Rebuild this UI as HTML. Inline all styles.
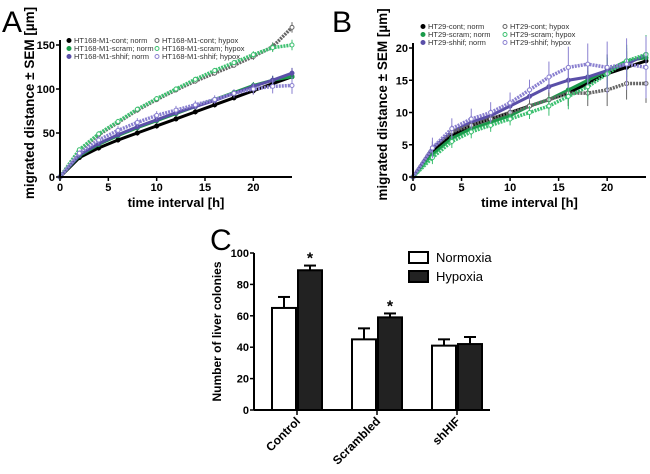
<!DOCTYPE html>
<html><head><meta charset="utf-8"><style>
body{margin:0;background:#fff;}
svg{display:block;font-family:"Liberation Sans",Arial,sans-serif;}
</style></head><body>
<svg id="fig" width="650" height="474" viewBox="0 0 650 474"></svg>
<script>
const hours=[0,2,4,6,8,10,12,14,16,18,20,22,24];
const aNames=["HT168-M1-cont; norm","HT168-M1-scram; norm","HT168-M1-shhif; norm","HT168-M1-cont; hypox","HT168-M1-scram; hypox","HT168-M1-shhif; hypox"];
const aContNorm=[0,22,33,42,50,58,66,74,82,90,98,106,114];
const aScramNorm=[0,24,37,47,56,64,72,80,88,96,104,110,114];
const aShhifNorm=[0,25,38,48,57,65,73,80,87,95,103,110,118];
const aContHyp=[0,30,48,62,76,88,99,109,118,127,137,148,170];
const aScramHyp=[0,31,49,63,77,89,100,111,121,130,139,147,150];
const aShhifHyp=[0,27,42,53,62,70,76,82,88,95,100,103,104];
const aErr=[0,2,3,3,3,3,3,3,3,3,4,5,6];
const bNames=["HT29-cont; norm","HT29-scram; norm","HT29-shhif; norm","HT29-cont; hypox","HT29-scram; hypox","HT29-shhif; hypox"];
const bContNorm=[0,4,6.5,8,9,10,11,12,13,14.5,16,17,18];
const bScramNorm=[0,3.5,6,7.5,8.5,9.5,11,12,13.5,15,16.5,18,18.5];
const bShhifNorm=[0,4.5,7,8.5,9.5,11,12.5,14,15,15.5,16.5,17.5,19];
const bContHyp=[0,4.5,7,8,9,10,11,12,13,13,13.5,14.5,14.5];
const bScramHyp=[0,3,5.5,7,8,9,10,11,12.5,14,16,18,19];
const bShhifHyp=[0,4.5,7.5,9,10,11.5,13.5,15.5,17,17.5,17,17.5,17];
const bErr=[0,1,1,1,1,1,1,1.5,2,2,2.5,2.5,3];
const cCats=["Control","Scrambled","shHIF"];
const cNorm=[65,45,41];
const cNormErr=[7,7,4];
const cHyp=[89,59,42];
const cHypErr=[3,2.5,4.5];
const cStar=[true,true,false];
const cTicks=[0,20,40,60,80,100];

const NS="http://www.w3.org/2000/svg";
const svg=document.getElementById('fig');
function el(t,a,p){const e=document.createElementNS(NS,t);for(const k in a)e.setAttribute(k,a[k]);(p||svg).appendChild(e);return e;}
function txt(s,a,p){const e=el('text',a,p);e.textContent=s;return e;}
const cols=["#000","#1a9a4a","#5a4fa8","#666","#3cc070","#8a80d0"];

function linePanel(letter,ox,x0,x1,xmax,y0,y1,ymax,yticks,series,errs,names,leg){
  const g=el('g',{});
  
  
  const X=v=>x0+(x1-x0)*v/xmax, Y=v=>y0-(y0-y1)*v/ymax;
  const L=txt(letter,{x:ox,y:32,'font-size':30},g);
  
  series.forEach((s,i)=>{
    const sg=el('g',{},g);
    
    
    const hyp=i>=3;
    hours.forEach((h,j)=>{const e=errs[j]*(hyp&&i==5?1.6:1);
      el('line',{x1:X(h),x2:X(h),y1:Y(s[j]+e),y2:Y(Math.max(0,s[j]-e)),stroke:cols[i],'stroke-width':1},sg);});
    el('polyline',{points:hours.map((h,j)=>X(h)+','+Y(s[j])).join(' '),fill:'none',stroke:cols[i],'stroke-width':hyp?3.5:3,'stroke-dasharray':hyp?'2 1':'none'},sg);
    hours.forEach((h,j)=>el('circle',{cx:X(h),cy:Y(s[j]),r:2,fill:hyp?'#fff':cols[i],stroke:cols[i],'stroke-width':1},sg));
  });
  el('line',{x1:x0,y1:y1-5,x2:x0,y2:y0,stroke:'#000','stroke-width':2},g);
  el('line',{x1:x0,y1:y0,x2:x1,y2:y0,stroke:'#000','stroke-width':2},g);
  [0,5,10,15,20].forEach(v=>{el('line',{x1:X(v),x2:X(v),y1:y0,y2:y0+4,stroke:'#000','stroke-width':1.5},g);
    txt(v,{x:X(v),y:y0+14,'font-size':11,'font-weight':'bold','text-anchor':'middle'},g);});
  yticks.forEach(v=>{el('line',{x1:x0-4,x2:x0,y1:Y(v),y2:Y(v),stroke:'#000','stroke-width':1.5},g);
    txt(v,{x:x0-5,y:Y(v)+4,'font-size':11,'font-weight':'bold','text-anchor':'end'},g);});
  const xl=txt('time interval [h]',{x:(x0+x1)/2,y:y0+30,'font-size':13,'font-weight':'bold','text-anchor':'middle'},g);
  
  const yl=txt('migrated distance ± SEM [µm]',{transform:`translate(${x0-26},${(y0+y1)/2-8}) rotate(-90)`,'font-size':13.5,'font-weight':'bold','text-anchor':'middle'},g);
  
  names.forEach((n,i)=>{const lx=leg[0]+(i>=3?leg[2]:0), ly=leg[1]+(i%3)*8;
    const lg=el('g',{},g);
    el('circle',{cx:lx,cy:ly-2.5,r:2,fill:i>=3?'#fff':cols[i],stroke:cols[i]},lg);
    txt(n,{x:lx+5,y:ly,'font-size':7.5,fill:'#333'},lg);});
}
linePanel('A',2,60,292,24,177,45,150,[0,50,100,150],[aContNorm,aScramNorm,aShhifNorm,aContHyp,aScramHyp,aShhifHyp],aErr,aNames,[69,43,88]);
linePanel('B',332,413,646,24,177,48,20,[0,5,10,15,20],[bContNorm,bScramNorm,bShhifNorm,bContHyp,bScramHyp,bShhifHyp],bErr,bNames,[423,29,82]);

// Panel C
(function(){
  const g=el('g',{});
  const x0=254,y0=410,y1=253,xr=490;
  const Y=v=>y0-(y0-y1)*v/100;
  const L=txt('C',{x:210,y:250,'font-size':30},g);
  
  const bw=24, centers=cCats.map((c,i)=>297+i*80);
  cCats.forEach((c,i)=>{
    const cx=centers[i];
    [[cNorm,cNormErr,'#fff',cx-bw-1],[cHyp,cHypErr,'#222',cx+1]].forEach(([v,e,f,bx],k)=>{
      const r=el('rect',{x:bx,y:Y(v[i]),width:bw,height:y0-Y(v[i]),fill:f,stroke:'#000','stroke-width':2},g);
      
      
      const mx=bx+bw/2;
      el('line',{x1:mx,x2:mx,y1:Y(v[i]),y2:Y(v[i]+e[i]),stroke:'#000','stroke-width':2},g);
      el('line',{x1:mx-6,x2:mx+6,y1:Y(v[i]+e[i]),y2:Y(v[i]+e[i]),stroke:'#000','stroke-width':2},g);
    });
    if(cStar[i])txt('*',{x:cx+1+bw/2,y:Y(cHyp[i]+cHypErr[i])-2,'font-size':16,'font-weight':'bold','text-anchor':'middle'},g);
    el('line',{x1:cx,x2:cx,y1:y0,y2:y0+5,stroke:'#000','stroke-width':1.5},g);
    const t=txt(c,{transform:`translate(${cx+4},${y0+12}) rotate(-45)`,'font-size':12,'font-weight':'bold','text-anchor':'end'},g);
    
  });
  el('line',{x1:x0,y1:y1,x2:x0,y2:y0,stroke:'#000','stroke-width':2},g);
  el('line',{x1:x0,y1:y0,x2:xr,y2:y0,stroke:'#000','stroke-width':2},g);
  cTicks.forEach(v=>{el('line',{x1:x0-4,x2:x0,y1:Y(v),y2:Y(v),stroke:'#000','stroke-width':1.5},g);
    txt(v,{x:x0-5,y:Y(v)+4,'font-size':11,'font-weight':'bold','text-anchor':'end'},g);});
  const yl=txt('Number of liver colonies',{transform:`translate(${x0-33},${(y0+y1)/2}) rotate(-90)`,'font-size':12,'font-weight':'bold','text-anchor':'middle'},g);
  
  [['Normoxia','#fff',252],['Hypoxia','#222',271]].forEach(([n,f,y])=>{
    const lg=el('g',{},g);
    el('rect',{x:409,y:y,width:19,height:11,fill:f,stroke:'#000','stroke-width':2},lg);
    txt(n,{x:436,y:y+10,'font-size':13},lg);});
})();
</script>
</body></html>
